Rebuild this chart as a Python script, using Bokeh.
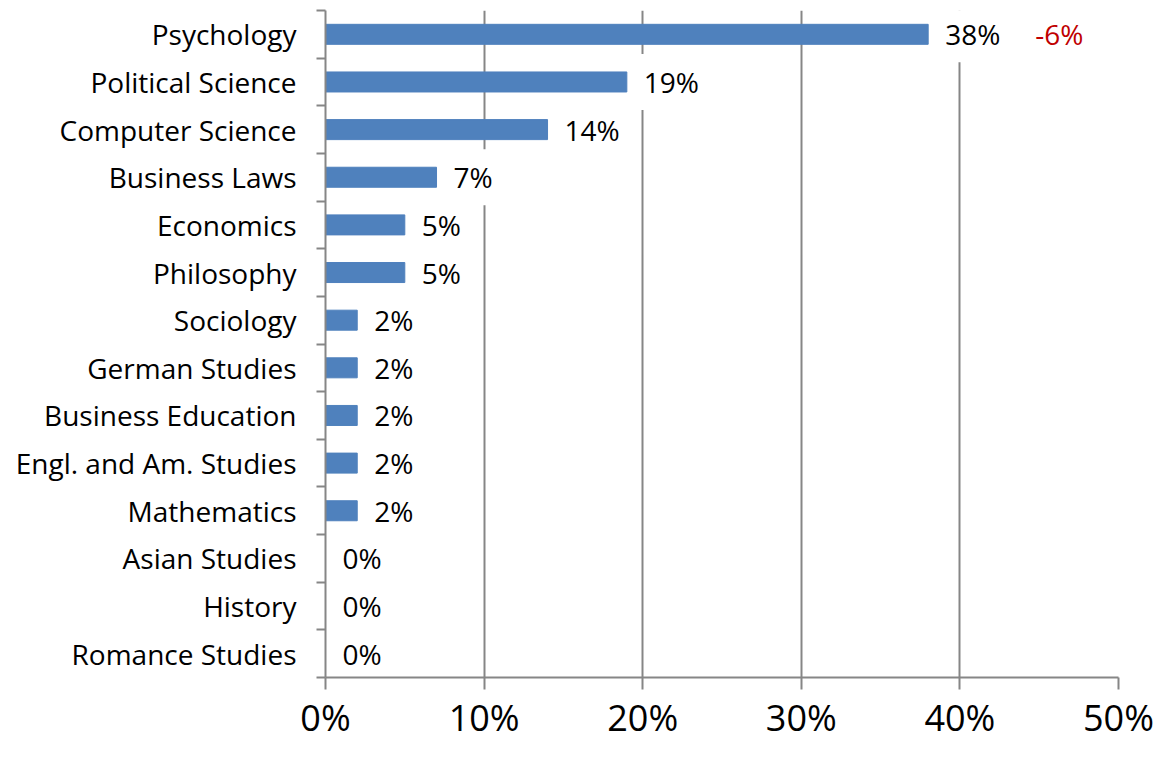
from bokeh.plotting import figure
from bokeh.models import ColumnDataSource, FixedTicker, Range1d, PrintfTickFormatter
from bokeh.core.properties import value
from bokeh.embed import file_html
from bokeh.resources import INLINE

categories = ["Psychology", "Political Science", "Computer Science", "Business Laws",
              "Economics", "Philosophy", "Sociology", "German Studies",
              "Business Education", "Engl. and Am. Studies", "Mathematics",
              "Asian Studies", "History", "Romance Studies"]
shares = [38, 19, 14, 7, 5, 5, 2, 2, 2, 2, 2, 0, 0, 0]
change_categories = ["Psychology"]
change_labels = ["-6%"]
x_ticks = [0, 10, 20, 30, 40, 50]

FONT = "Open Sans"
GRAY = "#868686"
n = len(categories)
ypos = [n - i - 0.5 for i in range(n)]
ymap = dict(zip(categories, ypos))
smap = dict(zip(categories, shares))

src = ColumnDataSource(dict(y=ypos, v=shares, lab=[f"{s}%" for s in shares]))

p = figure(width=1156, height=744, output_backend="svg", toolbar_location=None,
           x_range=Range1d(0, 50), y_range=Range1d(0, n),
           min_border_left=325, min_border_right=38, min_border_top=10, min_border_bottom=0)
p.outline_line_color = None
p.background_fill_color = "white"

p.hbar(y="y", left=0, right="v", height=0.42, color="#4F81BD", source=src)

p.text(x="v", y="y", text="lab", source=src, x_offset=8,
       text_align="left", text_baseline="middle",
       text_font=value(FONT), text_font_size="28px", text_color="black",
       background_fill_color="white", padding=(9, 12, 9, 9))

p.text(x=[smap[c] for c in change_categories], y=[ymap[c] for c in change_categories],
       text=change_labels, x_offset=107, text_align="left", text_baseline="middle",
       text_font=value(FONT), text_font_size="28px", text_color="#C00000")

# x axis
p.xaxis.ticker = FixedTicker(ticks=x_ticks)
p.xaxis.formatter = PrintfTickFormatter(format="%d%%")
p.xaxis.axis_line_color = GRAY
p.xaxis.axis_line_width = 2
p.xaxis.major_tick_line_color = GRAY
p.xaxis.major_tick_line_width = 2
p.xaxis.major_tick_in = 0
p.xaxis.major_tick_out = 12
p.xaxis.minor_tick_line_color = None
p.xaxis.major_label_standoff = 3
p.xaxis.major_label_text_font = FONT
p.xaxis.major_label_text_font_size = "36px"
p.xaxis.major_label_text_color = "black"

# y axis
p.yaxis.ticker = FixedTicker(ticks=ypos, minor_ticks=list(range(n + 1)))
p.yaxis.major_label_overrides = {y: c for y, c in zip(ypos, categories)}
p.yaxis.axis_line_color = GRAY
p.yaxis.axis_line_width = 2
p.yaxis.major_tick_line_color = None
p.yaxis.major_tick_in = 0
p.yaxis.major_tick_out = 9
p.yaxis.minor_tick_line_color = GRAY
p.yaxis.minor_tick_line_width = 2
p.yaxis.minor_tick_in = 0
p.yaxis.minor_tick_out = 9
p.yaxis.major_label_standoff = 20
p.yaxis.major_label_text_font = FONT
p.yaxis.major_label_text_font_size = "28px"
p.yaxis.major_label_text_color = "black"

p.xgrid.grid_line_color = GRAY
p.xgrid.grid_line_width = 2
p.ygrid.grid_line_color = None

open("out.html", "w").write(file_html(p, INLINE))
